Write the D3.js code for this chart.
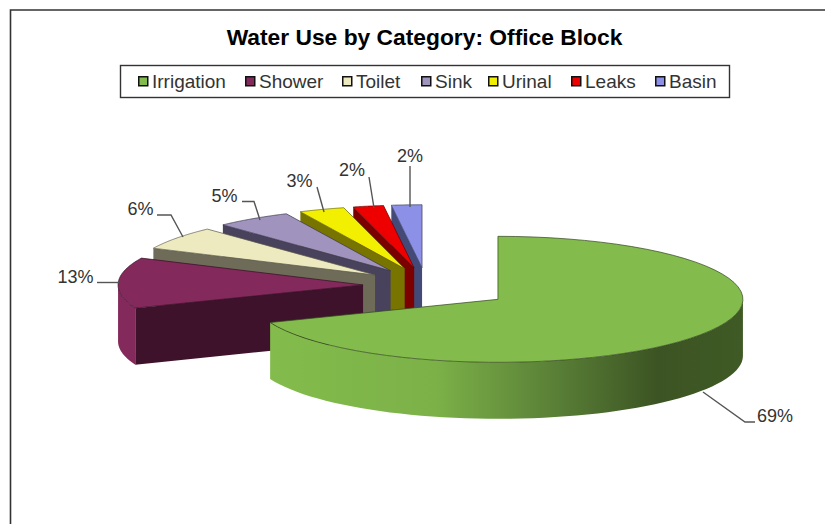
<!DOCTYPE html>
<html>
<head>
<meta charset="utf-8">
<script src="https://cdn.jsdelivr.net/npm/d3@7"></script>
<style>
  html, body { margin: 0; padding: 0; background: #fff; }
  svg { display: block; }
  text { font-family: "Liberation Sans", Arial, sans-serif; }
</style>
</head>
<body>
<svg id="chart" width="825" height="524"></svg>
<script>
const chartTitle = "Water Use by Category: Office Block";
const categories = ["Irrigation", "Shower", "Toilet", "Sink", "Urinal", "Leaks", "Basin"];
const shares = [69, 13, 6, 5, 3, 2, 2];
const explosions = [0.355, 0.257, 0.257, 0.257, 0.257, 0.257, 0.257];
const topColors = ["#83bc4c", "#84295c", "#eeeac0", "#a093bd", "#f2f000", "#ee0000", "#8c90e6"];
const wallColors = ["#3c5423", "#3f122c", "#6e6c58", "#48425c", "#777400", "#7c0000", "#444a78"];

// Layout of the legend entries and percentage labels
const legendSwatchX = [138, 245, 342, 421, 488, 571, 655];
const labelPlacement = [
  { x: 757, y: 422, anchor: "start", leader: [[755, 422], [745, 422], [703, 392]] },
  { x: 93.5, y: 283, anchor: "end", leader: [[97, 282.5], [119, 282.5]] },
  { x: 153.5, y: 215, anchor: "end", leader: [[157, 215], [171, 215], [183, 237]] },
  { x: 237.5, y: 202, anchor: "end", leader: [[242, 201.5], [254, 201.5], [260, 220]] },
  { x: 312.5, y: 187, anchor: "end", leader: [[317, 187], [324, 212]] },
  { x: 365, y: 176, anchor: "end", leader: [[369, 177], [374, 208]] },
  { x: 423, y: 162, anchor: "end", leader: [[410, 166], [410, 207]] }
];

const svg = d3.select("#chart");
const width = 825, height = 524;
const line = d3.line();

const pieCenter = { x: 426, y: 285.5 };
const radiusX = 245, radiusY = 63, depth = 56.5;
const explodeTilt = 1.1;

// Chart frame: only the top and left edges fall inside the page
svg.append("path")
  .attr("d", line([[10.5, height], [10.5, 10], [width, 10]]))
  .attr("fill", "none").attr("stroke", "#333").attr("stroke-width", 1.6);

svg.append("text")
  .attr("x", 424.5).attr("y", 45).attr("text-anchor", "middle")
  .attr("font-size", 22.8).attr("font-weight", "bold").attr("fill", "#000")
  .text(chartTitle);

// Legend box and entries
const legend = svg.append("g");
legend.append("rect")
  .attr("x", 120.5).attr("y", 65.5).attr("width", 609).attr("height", 32)
  .attr("fill", "#fff").attr("stroke", "#333").attr("stroke-width", 1.4);
categories.forEach((c, i) => {
  const x = legendSwatchX[i];
  legend.append("rect").attr("x", x + 0.75).attr("y", 76.75).attr("width", 9).attr("height", 9)
    .attr("fill", topColors[i]).attr("stroke", "#111").attr("stroke-width", 1.5);
  legend.append("text").attr("x", x + 14).attr("y", 88)
    .attr("font-size", 19).attr("fill", "#333").text(c);
});

// Lay out the slices, then project each angle onto the tilted ellipse
const slices = d3.pie().sort(null).value(d => d)(shares);
const project = (c, a) => [c.x + radiusX * Math.sin(a), c.y - radiusY * Math.cos(a)];
const rimPoints = (c, a0, a1, n = 60) =>
  d3.range(n + 1).map(k => project(c, a0 + (a1 - a0) * k / n));

slices.forEach((s, i) => {
  const mid = (s.startAngle + s.endAngle) / 2;
  const e = explosions[i];
  s.center = {
    x: pieCenter.x + radiusX * e * Math.sin(mid),
    y: pieCenter.y - radiusY * explodeTilt * e * Math.cos(mid)
  };
});

// Shaded outer wall of the large slice: light on the left, dark towards the right
const greenRim = svg.append("defs").append("linearGradient").attr("id", "rim-green")
  .attr("gradientUnits", "userSpaceOnUse")
  .attr("x1", 269).attr("x2", 743).attr("y1", 0).attr("y2", 0);
[[0, "#83bc4c"], [0.35, "#7cb148"], [0.6, "#5a8037"], [0.82, "#3c5423"], [1, "#3f5a25"]]
  .forEach(([o, col]) => greenRim.append("stop").attr("offset", o).attr("stop-color", col));

const pie = svg.append("g");

// Painter's order: furthest slice first, the large front slice last
d3.range(slices.length - 1, -1, -1).forEach(i => {
  const s = slices[i], c = s.center;
  const down = p => [p[0], p[1] + depth];

  // Cut wall along the leading radius, only seen when it faces the viewer
  if (i > 0) {
    const rimStart = project(c, s.startAngle);
    const apex = [c.x, c.y];
    pie.append("path")
      .attr("d", line([rimStart, apex, down(apex), down(rimStart)]) + "Z")
      .attr("fill", wallColors[i]);
  }

  // Outer curved wall for the front half of the ellipse
  const front0 = Math.max(s.startAngle, Math.PI / 2);
  const front1 = Math.min(s.endAngle, 3 * Math.PI / 2);
  if (front1 > front0) {
    const rim = rimPoints(c, front0, front1);
    pie.append("path")
      .attr("d", line(rim.concat(rim.slice().reverse().map(down))) + "Z")
      .attr("fill", i === 0 ? "url(#rim-green)" : topColors[i]);
  }

  // Top face
  const face = [[c.x, c.y]].concat(rimPoints(c, s.startAngle, s.endAngle));
  pie.append("path")
    .attr("d", line(face) + "Z")
    .attr("fill", topColors[i])
    .attr("stroke", d3.color(wallColors[i]).darker(0.6)).attr("stroke-width", 0.7);
});

// Percentage labels with their leader lines
slices.forEach((s, i) => {
  const p = labelPlacement[i];
  svg.append("path").attr("d", line(p.leader)).attr("fill", "none")
    .attr("stroke", "#555").attr("stroke-width", 1.4);
  svg.append("text").attr("x", p.x).attr("y", p.y).attr("text-anchor", p.anchor)
    .attr("font-size", 18).attr("fill", "#333").text(s.data + "%");
});
</script>
</body>
</html>
